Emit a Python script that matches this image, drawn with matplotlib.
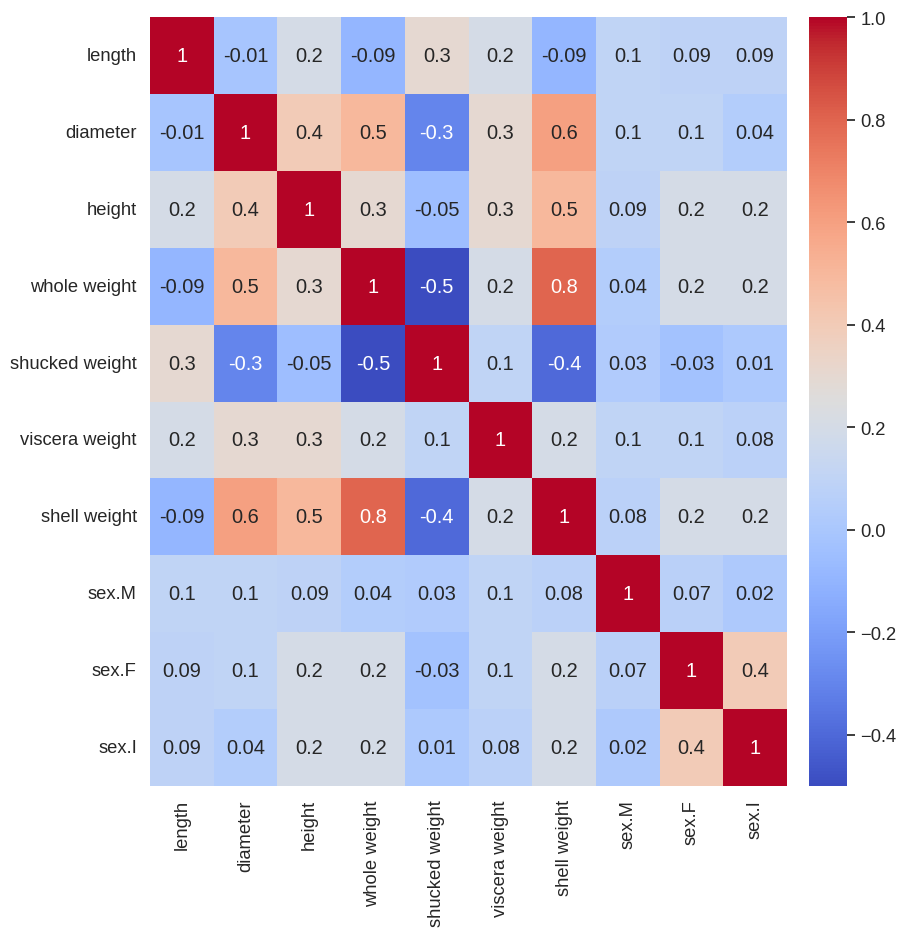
import numpy as np
import pandas as pd
import matplotlib
matplotlib.use("Agg")
import matplotlib.pyplot as plt
import seaborn as sns

labels = ["length", "diameter", "height", "whole weight", "shucked weight",
          "viscera weight", "shell weight", "sex.M", "sex.F", "sex.I"]

# correlation rows
r_length = [1, -0.01, 0.2, -0.09, 0.3, 0.2, -0.09, 0.1, 0.09, 0.09]
r_diameter = [-0.01, 1, 0.4, 0.5, -0.3, 0.3, 0.6, 0.1, 0.1, 0.04]
r_height = [0.2, 0.4, 1, 0.3, -0.05, 0.3, 0.5, 0.09, 0.2, 0.2]
r_whole = [-0.09, 0.5, 0.3, 1, -0.5, 0.2, 0.8, 0.04, 0.2, 0.2]
r_shucked = [0.3, -0.3, -0.05, -0.5, 1, 0.1, -0.4, 0.03, -0.03, 0.01]
r_viscera = [0.2, 0.3, 0.3, 0.2, 0.1, 1, 0.2, 0.1, 0.1, 0.08]
r_shell = [-0.09, 0.6, 0.5, 0.8, -0.4, 0.2, 1, 0.08, 0.2, 0.2]
r_sexM = [0.1, 0.1, 0.09, 0.04, 0.03, 0.1, 0.08, 1, 0.07, 0.02]
r_sexF = [0.09, 0.1, 0.2, 0.2, -0.03, 0.1, 0.2, 0.07, 1, 0.4]
r_sexI = [0.09, 0.04, 0.2, 0.2, 0.01, 0.08, 0.2, 0.02, 0.4, 1]

corr = pd.DataFrame([r_length, r_diameter, r_height, r_whole, r_shucked,
                     r_viscera, r_shell, r_sexM, r_sexF, r_sexI],
                    index=labels, columns=labels)

sns.set_theme(style="white", font_scale=1.2)
plt.rcParams['font.family'] = ['Liberation Sans', 'DejaVu Sans']

fig = plt.figure(figsize=(9.06, 9.37), dpi=100)
ax = fig.add_axes([150 / 906, 1 - 787 / 937, 637 / 906, 769 / 937])
cax = fig.add_axes([809 / 906, 1 - 787 / 937, 38 / 906, 769 / 937])

sns.heatmap(corr, annot=True, fmt=".1g", cmap="coolwarm", ax=ax, cbar_ax=cax)

fig.savefig("out.png", dpi=100)
